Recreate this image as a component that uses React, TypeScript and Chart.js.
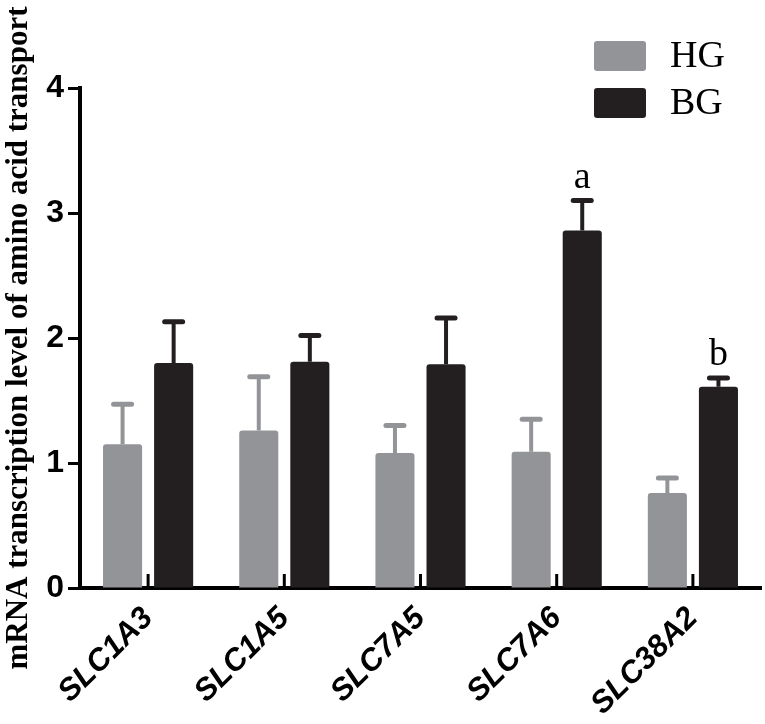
import { useEffect, useRef } from "react";
import { Chart, registerables } from "chart.js";

Chart.register(...registerables);

const genes = ["SLC1A3", "SLC1A5", "SLC7A5", "SLC7A6", "SLC38A2"];
const hgMeans = [1.15, 1.26, 1.08, 1.09, 0.76];
const hgSem = [0.32, 0.43, 0.22, 0.26, 0.12];
const bgMeans = [1.8, 1.81, 1.79, 2.86, 1.61];
const bgSem = [0.33, 0.21, 0.37, 0.24, 0.07];
const bgLetters = ["", "", "", "a", "b"];
const yTicks = [0, 1, 2, 3, 4];

const GRAY = "#939498";
const BLACK = "#231f20";
const errors = [hgSem, bgSem];

// T-shaped error bars, inner x ticks, letters and the legend
const extras = {
  id: "extras",
  afterDatasetsDraw(chart: Chart) {
    const { ctx, chartArea } = chart;
    const x = chart.scales.x;
    const y = chart.scales.y;
    ctx.save();

    chart.data.datasets.forEach((ds, di) => {
      const meta = chart.getDatasetMeta(di);
      const color = ds.backgroundColor as string;
      meta.data.forEach((bar: any, i) => {
        const mean = (ds.data as number[])[i];
        const top = y.getPixelForValue(mean + errors[di][i]);
        ctx.strokeStyle = color;
        ctx.lineWidth = 4;
        ctx.lineCap = "butt";
        ctx.beginPath();
        ctx.moveTo(bar.x, bar.y);
        ctx.lineTo(bar.x, top);
        ctx.stroke();
        ctx.lineWidth = 5;
        ctx.lineCap = "round";
        ctx.beginPath();
        ctx.moveTo(bar.x - 9, top);
        ctx.lineTo(bar.x + 9, top);
        ctx.stroke();
        if (di === 1 && bgLetters[i]) {
          ctx.fillStyle = "#000";
          ctx.font = "38px 'Liberation Serif'";
          ctx.textAlign = "center";
          ctx.textBaseline = "alphabetic";
          ctx.fillText(bgLetters[i], bar.x, top - 13);
        }
      });
    });

    // short ticks pointing up at each category centre
    ctx.strokeStyle = "#000";
    ctx.lineWidth = 3;
    ctx.lineCap = "butt";
    genes.forEach((_, i) => {
      const px = x.getPixelForTick(i);
      ctx.beginPath();
      ctx.moveTo(px, chartArea.bottom);
      ctx.lineTo(px, chartArea.bottom - 14);
      ctx.stroke();
    });

    // legend
    const lx = chartArea.right - 167;
    chart.data.datasets.forEach((ds, di) => {
      const ly = 41 + di * 47;
      ctx.fillStyle = ds.backgroundColor as string;
      ctx.beginPath();
      ctx.roundRect(lx, ly, 52, 30, 3);
      ctx.fill();
      ctx.fillStyle = "#000";
      ctx.font = "38px 'Liberation Serif'";
      ctx.textAlign = "left";
      ctx.textBaseline = "middle";
      ctx.fillText(ds.label as string, lx + 76, ly + 16);
    });
    ctx.restore();
  },
};

export default function App() {
  const canvasRef = useRef<HTMLCanvasElement | null>(null);

  useEffect(() => {
    document.body.style.margin = "0";
    if (!canvasRef.current) return;

    const chart = new Chart(canvasRef.current, {
      type: "bar",
      data: {
        labels: genes,
        datasets: [
          {
            label: "HG",
            data: hgMeans,
            backgroundColor: GRAY,
            borderRadius: 3,
            borderSkipped: "bottom",
            categoryPercentage: 0.75,
            barPercentage: 0.765,
          },
          {
            label: "BG",
            data: bgMeans,
            backgroundColor: BLACK,
            borderRadius: 3,
            borderSkipped: "bottom",
            categoryPercentage: 0.75,
            barPercentage: 0.765,
          },
        ],
      },
      options: {
        animation: false,
        responsive: false,
        layout: { padding: { top: 88, right: 4, left: 0, bottom: 0 } },
        plugins: {
          legend: { display: false },
          tooltip: { enabled: false },
        },
        scales: {
          x: {
            grid: { display: false, drawTicks: false },
            border: { color: "#000", width: 4 },
            ticks: {
              color: "#000",
              minRotation: 45,
              maxRotation: 45,
              padding: 12,
              font: {
                family: "'Liberation Sans', Arial, sans-serif",
                size: 31,
                weight: "bold",
                style: "italic",
              },
            },
            afterFit: (scale) => {
              scale.height = 136;
            },
          },
          y: {
            min: 0,
            max: 4,
            afterBuildTicks: (scale) => {
              scale.ticks = yTicks.map((v) => ({ value: v }));
            },
            grid: {
              drawOnChartArea: false,
              drawTicks: true,
              tickLength: 12,
              tickWidth: 3,
              color: "#000",
            },
            border: { color: "#000", width: 4 },
            ticks: {
              color: "#000",
              padding: 4,
              font: {
                family: "'Liberation Sans', Arial, sans-serif",
                size: 32,
                weight: "bold",
              },
            },
            title: {
              display: true,
              text: "mRNA transcription level of amino acid transport",
              color: "#000",
              padding: { top: 3, bottom: 0 },
              font: {
                family: "'Liberation Serif', 'Times New Roman', serif",
                size: 31,
                weight: "bold",
                lineHeight: 1,
              },
            },
            afterFit: (scale) => {
              scale.width = 80;
            },
          },
        },
      },
      plugins: [extras],
    });

    return () => {
      chart.destroy();
    };
  }, []);

  return (
    <div style={{ width: 765, height: 724, background: "#fff" }}>
      <canvas ref={canvasRef} width={765} height={724} />
    </div>
  );
}
